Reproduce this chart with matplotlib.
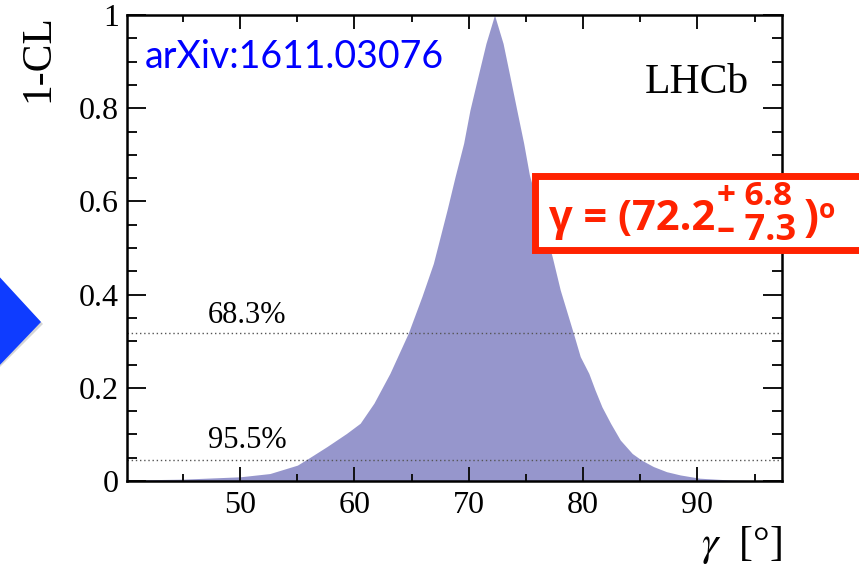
import matplotlib
matplotlib.use("Agg")
import matplotlib.pyplot as plt
from matplotlib.patches import Polygon, Rectangle
from matplotlib.ticker import MultipleLocator, FuncFormatter

# profile scan of gamma (degrees) and 1-CL
gamma = [40.1, 45.0, 50.0, 52.6, 55.0, 55.8, 57.6, 59.3, 60.5, 61.7, 63.1,
         64.7, 65.9, 66.9, 67.35, 68.1, 68.8, 69.55, 70.1, 70.8, 71.5, 72.25,
         73.0, 73.6, 74.2, 74.8, 75.3, 77.3, 78.0, 79.15, 79.75, 80.5, 81.05,
         81.65, 82.4, 83.25, 84.3, 85.1, 86.15, 87.3, 88.5, 90.2, 93.0, 97.4]
one_minus_cl = [0.002, 0.004, 0.009, 0.016, 0.034, 0.046, 0.074, 0.102, 0.124,
                0.167, 0.231, 0.317, 0.396, 0.467, 0.510, 0.582, 0.653, 0.725,
                0.796, 0.868, 0.939, 1.000, 0.939, 0.868, 0.796, 0.725, 0.657,
                0.481, 0.410, 0.317, 0.267, 0.231, 0.195, 0.159, 0.124, 0.088,
                0.059, 0.045, 0.031, 0.020, 0.013, 0.006, 0.002, 0.000]
cl_levels = [0.317, 0.045]
cl_labels = ["68.3%", "95.5%"]

W, H = 859, 565
serif = ["Liberation Serif", "DejaVu Serif"]
plt.rcParams["font.family"] = serif
plt.rcParams["mathtext.fontset"] = "stix"

fig = plt.figure(figsize=(W / 100, H / 100), dpi=100)


def fx(px):
    return px / W


def fy(py):
    return 1 - py / H


ax = fig.add_axes([fx(127), fy(481), fx(782) - fx(127), fy(15) - fy(481)])
ax.fill_between(gamma, 0, one_minus_cl, color="#9696cc", lw=0)
for lev in cl_levels:
    ax.axhline(lev, color="#555555", lw=1.0, ls=(0, (1, 2)))

ax.set_xlim(40.1, 97.4)
ax.set_ylim(0, 1)
ax.xaxis.set_major_locator(MultipleLocator(10))
ax.xaxis.set_minor_locator(MultipleLocator(5))
ax.yaxis.set_major_locator(MultipleLocator(0.2))
ax.yaxis.set_minor_locator(MultipleLocator(0.05))
ax.yaxis.set_major_formatter(FuncFormatter(lambda v, p: f"{v:.1f}".replace("0.0", "0").replace("1.0", "1")))
ax.tick_params(which="both", direction="in", top=True, right=True, width=1.4,
               labelsize=23, color="#111111", labelfontfamily="Liberation Serif")
ax.tick_params(axis="x", which="major", length=10, pad=7)
ax.tick_params(axis="x", which="minor", length=5)
ax.tick_params(axis="y", which="major", length=14, pad=6)
ax.tick_params(axis="y", which="minor", length=7)
for s in ax.spines.values():
    s.set_linewidth(1.8)

ax.text(47.2, 0.356, cl_labels[0], fontsize=22, va="center", ha="left")
ax.text(47.2, 0.086, cl_labels[1], fontsize=22, va="center", ha="left")

fig.text(fx(38), fy(14), "1-CL", rotation=90, fontsize=30, ha="center", va="top")
fig.text(fx(782), fy(545), r"$\gamma$  [°]", fontsize=30, ha="right", va="center")
fig.text(fx(697), fy(83), "LHCb", fontsize=30, ha="center", va="center")
fig.text(fx(145), fy(57), "arXiv:1611.03076", fontsize=27, color="#0000ff",
         family="Lato", ha="left", va="center")

# result box
red = "#ff2200"
fig.patches.append(Rectangle((fx(535), fy(250)), fx(900) - fx(535), fy(176) - fy(250),
                             transform=fig.transFigure, facecolor="white",
                             edgecolor=red, lw=5, zorder=5))
box_font = dict(color=red, weight="bold", family="Open Sans", va="center", zorder=6)
fig.text(fx(549), fy(219), "γ = (72.2", fontsize=30, ha="left", **box_font)
fig.text(fx(717), fy(196), "+ 6.8", fontsize=24, ha="left", **box_font)
fig.text(fx(717), fy(231), "– 7.3", fontsize=26, ha="left", **box_font)
fig.text(fx(804), fy(219), ")", fontsize=32, ha="left", **box_font)
fig.text(fx(819), fy(211), "o", fontsize=19, ha="left", **box_font)

# blue chevron on the left edge
fig.patches.append(Polygon([(fx(-5), fy(274)), (fx(43), fy(324)), (fx(-5), fy(372))],
                           closed=True, transform=fig.transFigure,
                           facecolor="#888888", edgecolor="none", alpha=0.35, zorder=4))
fig.patches.append(Polygon([(fx(-5), fy(272)), (fx(41), fy(322)), (fx(-5), fy(370))],
                           closed=True, transform=fig.transFigure,
                           facecolor="#0f3cff", edgecolor="none", zorder=5))

fig.savefig("out.png", dpi=100)
